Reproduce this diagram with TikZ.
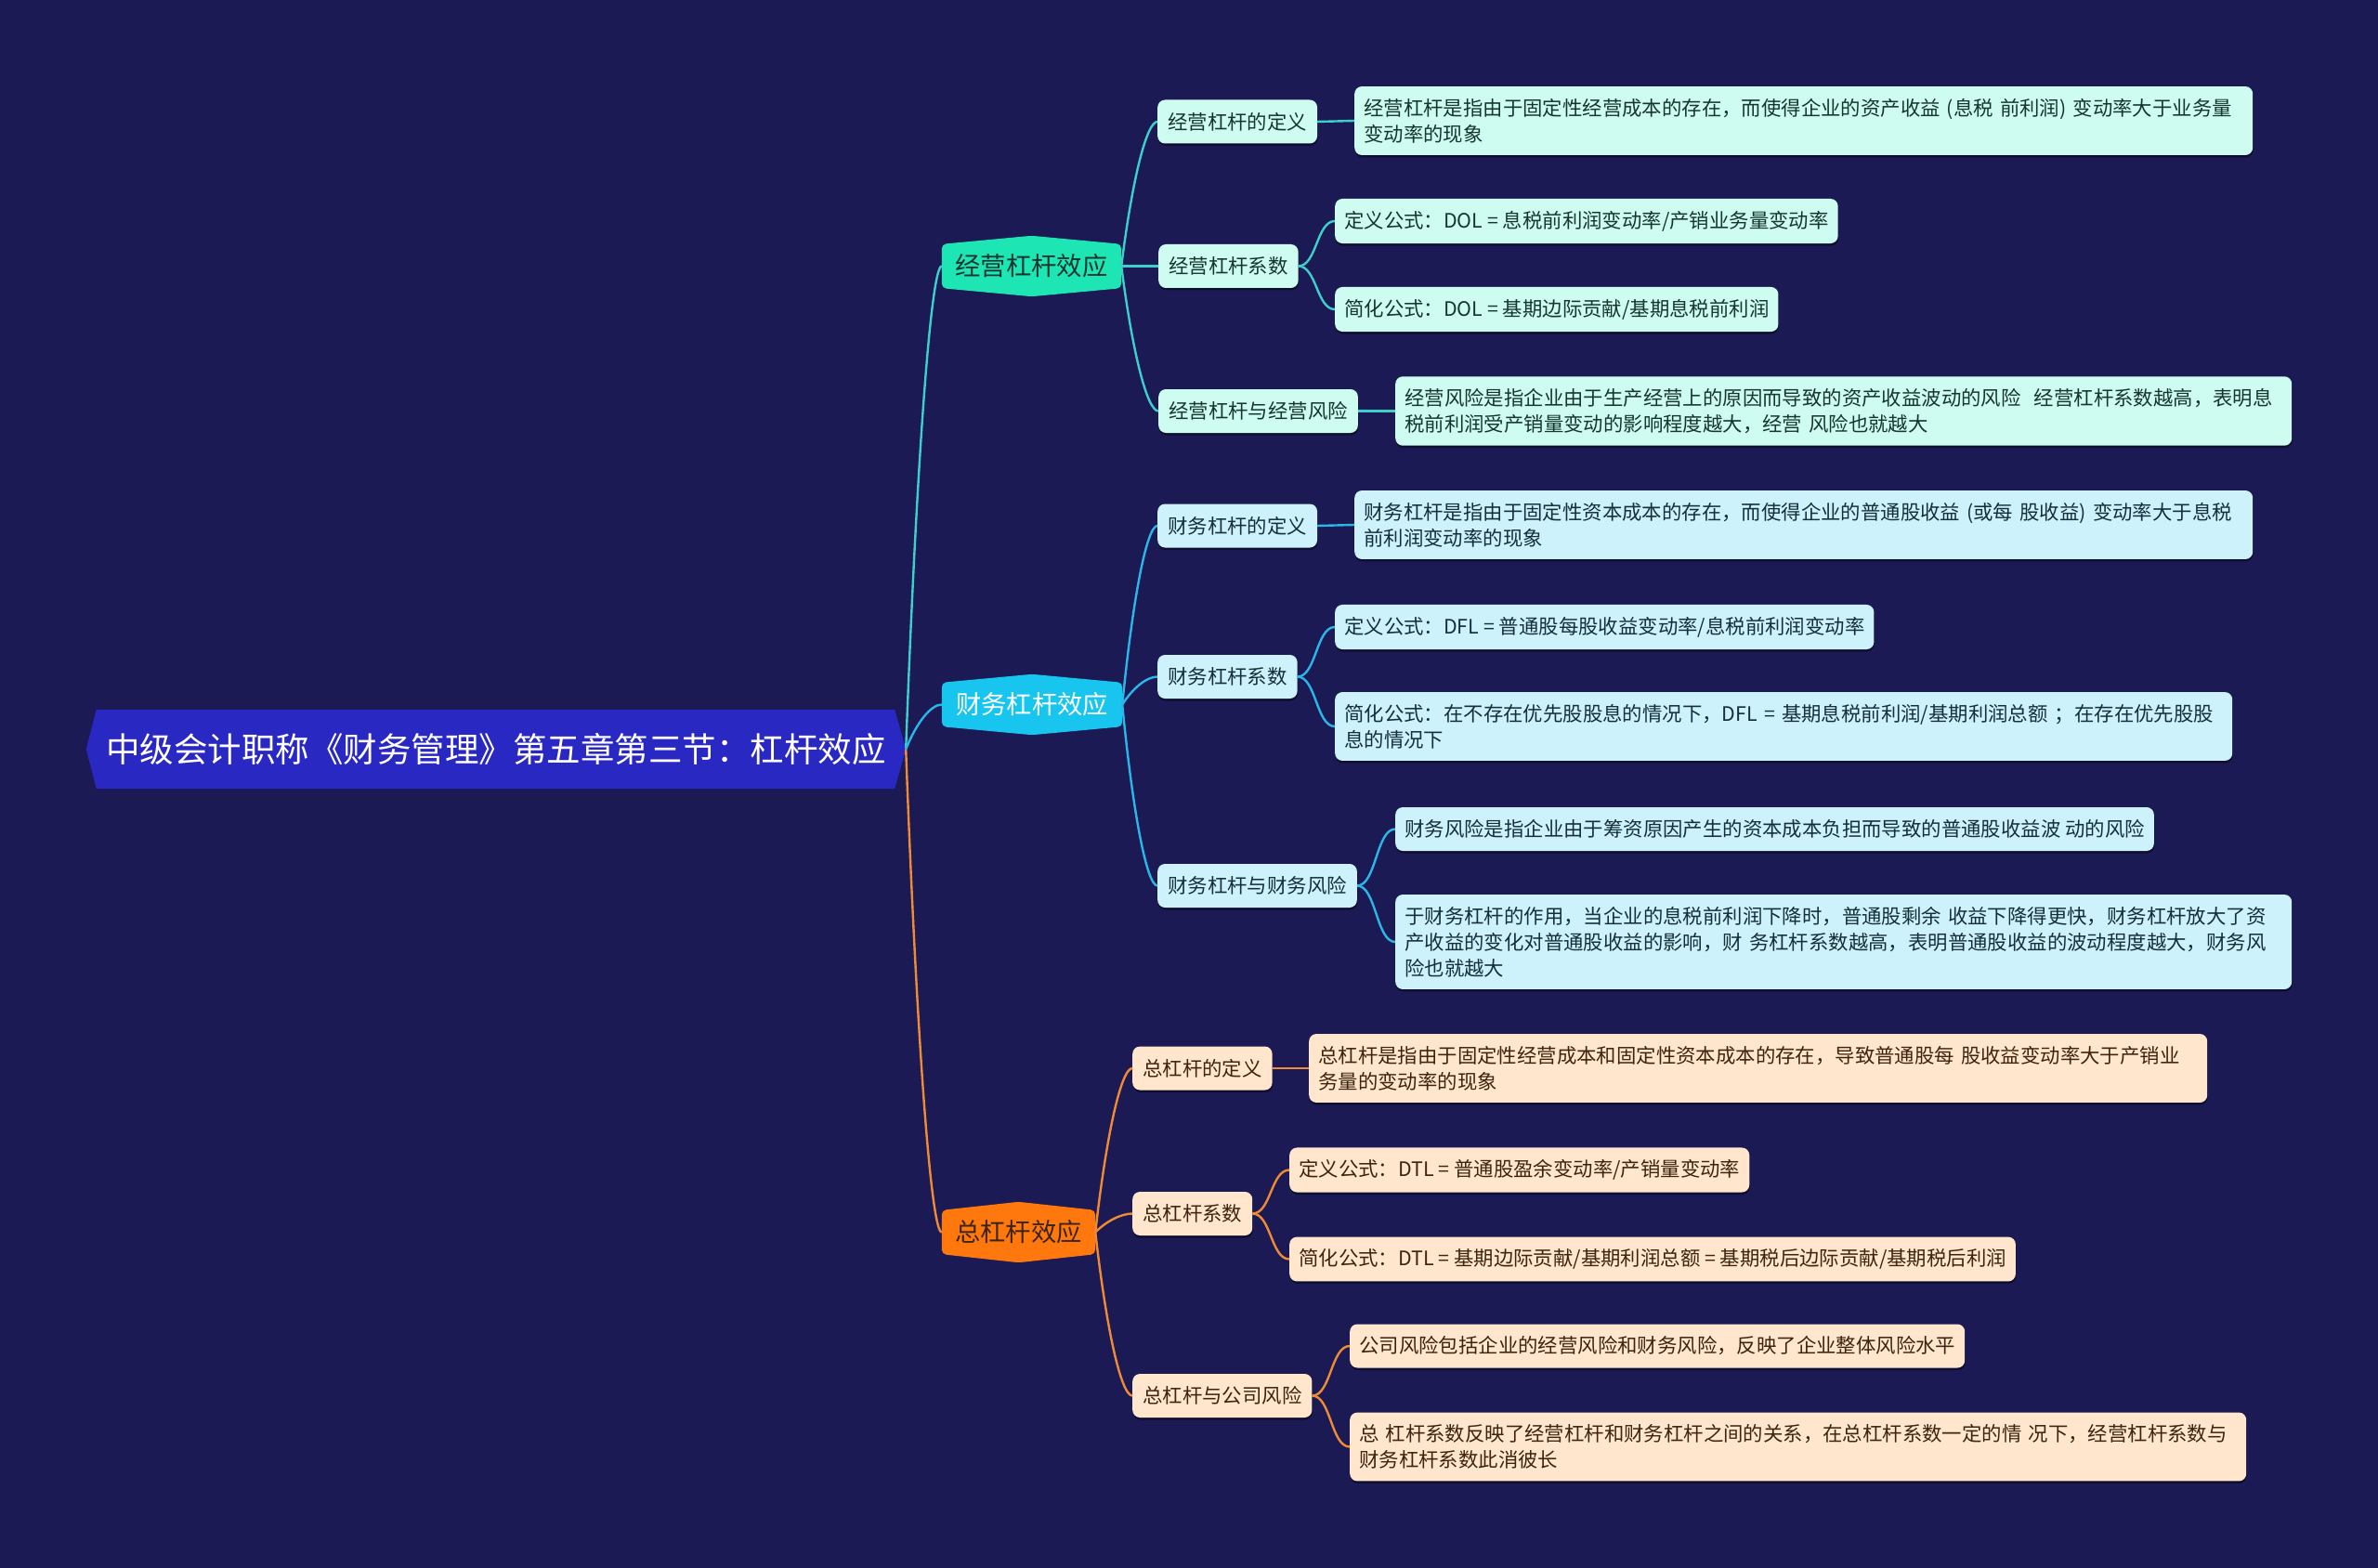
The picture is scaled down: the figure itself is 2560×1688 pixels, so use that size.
\documentclass[tikz,border=0pt]{standalone}
\usepackage{fontspec}
\setmainfont{Noto Sans CJK SC}
\usetikzlibrary{calc,backgrounds,shadows}
\definecolor{bgc}{HTML}{1B1A54}
\definecolor{rootc}{HTML}{2A28C2}
\definecolor{jLone}{HTML}{1DE6B4}
\definecolor{cLone}{HTML}{17C5EE}
\definecolor{zLone}{HTML}{FF780E}
\definecolor{jfill}{HTML}{CFFCF0}
\definecolor{cfill}{HTML}{CEF2FB}
\definecolor{zfill}{HTML}{FFE6CD}
\definecolor{jline}{HTML}{3ECFCB}
\definecolor{cline}{HTML}{2AB6E8}
\definecolor{zline}{HTML}{EF8B34}
\definecolor{jtext}{HTML}{163530}
\definecolor{ctext}{HTML}{142F3A}
\definecolor{ztext}{HTML}{3C2410}
\tikzset{
  rootnode/.style={minimum width=882pt, minimum height=85pt, inner sep=0pt, text=white, font=\fontsize{36.5}{44}\selectfont},
  lone/.style={minimum height=47pt, inner sep=0pt, font=\fontsize{27.3}{33}\selectfont},
  boxshadow/.style={drop shadow={shadow xshift=0.5pt, shadow yshift=-2.5pt, fill=black, opacity=0.45}},
  ltwo/.style={rounded corners=8pt, inner xsep=11pt, inner ysep=0pt, minimum height=47pt, anchor=west, boxshadow, font=\fontsize{21.4}{28}\selectfont},
  lthree/.style={rounded corners=8pt, inner xsep=10pt, inner ysep=13pt, minimum height=47pt, anchor=west, align=left, boxshadow, font=\fontsize{21.4}{28}\selectfont},
  jb/.style={fill=jfill, text=jtext},
  cb/.style={fill=cfill, text=ctext},
  zb/.style={fill=zfill, text=ztext},
  conn/.style={line width=2.4pt}
}
\newcommand\linkV[3]{\draw[conn,draw=#1] let \p1=(#2.east), \p2=(#3.west) in (\p1) .. controls ({\x1+0.3*(\x2-\x1)},{\y1+0.6*(\y2-\y1)}) and ({\x1+0.7*(\x2-\x1)},\y2) .. (\p2);}
\newcommand\linkS[3]{\draw[conn,draw=#1] let \p1=(#2.east), \p2=(#3.west) in (\p1) .. controls ({\x1+0.5*(\x2-\x1)},\y1) and ({\x1+0.5*(\x2-\x1)},\y2) .. (\p2);}
\newcommand\hexfill[2]{\fill[#2, rounded corners=5pt] (#1.north west) -- ($(#1.north)+(0,9)$) -- (#1.north east) -- (#1.south east) -- ($(#1.south)+(0,-9)$) -- (#1.south west) -- cycle;}
\begin{document}
\begin{tikzpicture}[x=1pt,y=1pt]
\useasboundingbox (0,0) rectangle (2560,-1688);
\begin{scope}[on background layer]
\fill[bgc] (0,0) rectangle (2560,-1688);
\end{scope}

% root
\node[rootnode] (root) at (534,-806.5) {中级会计职称《财务管理》第五章第三节：杠杆效应};

% level 1
\node[lone, text=jtext, minimum width=193pt] (j1) at (1110.5,-286.5) {经营杠杆效应};
\node[lone, text=white, minimum width=194pt] (c1) at (1111,-758.5) {财务杠杆效应};
\node[lone, text=ztext, minimum width=165pt] (z1) at (1096.5,-1326.5) {总杠杆效应};

\begin{scope}[on background layer]
\fill[rootc] (root.west) -- ($(root.north west)+(11,0)$) -- ($(root.north east)+(-12,0)$) -- (root.east) -- ($(root.south east)+(-12,0)$) -- ($(root.south west)+(11,0)$) -- cycle;
\hexfill{j1}{jLone}
\hexfill{c1}{cLone}
\hexfill{z1}{zLone}
\end{scope}

% level 2
\node[ltwo,jb] (j2a) at (1246,-131) {经营杠杆的定义};
\node[ltwo,jb] (j2b) at (1247,-286.5) {经营杠杆系数};
\node[ltwo,jb] (j2c) at (1247,-442.5) {经营杠杆与经营风险};
\node[ltwo,cb] (c2a) at (1246,-566) {财务杠杆的定义};
\node[ltwo,cb] (c2b) at (1246,-728.5) {财务杠杆系数};
\node[ltwo,cb] (c2c) at (1246,-953.5) {财务杠杆与财务风险};
\node[ltwo,zb] (z2a) at (1219,-1150) {总杠杆的定义};
\node[ltwo,zb] (z2b) at (1219,-1306.5) {总杠杆系数};
\node[ltwo,zb] (z2c) at (1219,-1502.5) {总杠杆与公司风险};

% level 3
\node[lthree,jb,text width=947pt] (j3a) at (1458,-130) {经营杠杆是指由于固定性经营成本的存在，而使得企业的资产收益~(息税~前利润)~变动率大于业务量\\变动率的现象};
\node[lthree,jb] (j3b) at (1437,-238) {定义公式：DOL = 息税前利润变动率/产销业务量变动率};
\node[lthree,jb] (j3c) at (1437,-333) {简化公式：DOL = 基期边际贡献/基期息税前利润};
\node[lthree,jb,text width=945pt] (j3d) at (1502,-442.5) {经营风险是指企业由于生产经营上的原因而导致的资产收益波动的风险~~经营杠杆系数越高，表明息\\税前利润受产销量变动的影响程度越大，经营~风险也就越大};

\node[lthree,cb,text width=947pt] (c3a) at (1458,-565) {财务杠杆是指由于固定性资本成本的存在，而使得企业的普通股收益~(或每~股收益)~变动率大于息税\\前利润变动率的现象};
\node[lthree,cb] (c3b) at (1437,-675) {定义公式：DFL = 普通股每股收益变动率/息税前利润变动率};
\node[lthree,cb,text width=946pt] (c3c) at (1437,-782) {简化公式：在不存在优先股股息的情况下，DFL~=~基期息税前利润/基期利润总额~；在存在优先股股\\息的情况下};
\node[lthree,cb] (c3d) at (1502,-892.5) {财务风险是指企业由于筹资原因产生的资本成本负担而导致的普通股收益波 动的风险};
\node[lthree,cb,text width=945pt] (c3e) at (1502,-1014) {于财务杠杆的作用，当企业的息税前利润下降时，普通股剩余~收益下降得更快，财务杠杆放大了资\\产收益的变化对普通股收益的影响，财~务杠杆系数越高，表明普通股收益的波动程度越大，财务风\\险也就越大};

\node[lthree,zb,text width=947pt] (z3a) at (1409,-1150) {总杠杆是指由于固定性经营成本和固定性资本成本的存在，导致普通股每~股收益变动率大于产销业\\务量的变动率的现象};
\node[lthree,zb] (z3b) at (1388,-1259.5) {定义公式：DTL = 普通股盈余变动率/产销量变动率};
\node[lthree,zb] (z3c) at (1388,-1355.5) {简化公式：DTL = 基期边际贡献/基期利润总额 = 基期税后边际贡献/基期税后利润};
\node[lthree,zb] (z3d) at (1453,-1449) {公司风险包括企业的经营风险和财务风险，反映了企业整体风险水平};
\node[lthree,zb,text width=945pt] (z3e) at (1453,-1557.5) {总~杠杆系数反映了经营杠杆和财务杠杆之间的关系，在总杠杆系数一定的情~况下，经营杠杆系数与\\财务杠杆系数此消彼长};

% connectors
\linkV{jline}{root}{j1}
\linkV{cline}{root}{c1}
\linkV{zline}{root}{z1}

\linkV{jline}{j1}{j2a}
\linkV{jline}{j1}{j2b}
\linkV{jline}{j1}{j2c}
\linkV{cline}{c1}{c2a}
\linkV{cline}{c1}{c2b}
\linkV{cline}{c1}{c2c}
\linkV{zline}{z1}{z2a}
\linkV{zline}{z1}{z2b}
\linkV{zline}{z1}{z2c}

\linkS{jline}{j2a}{j3a}
\linkS{jline}{j2b}{j3b}
\linkS{jline}{j2b}{j3c}
\linkS{jline}{j2c}{j3d}
\linkS{cline}{c2a}{c3a}
\linkS{cline}{c2b}{c3b}
\linkS{cline}{c2b}{c3c}
\linkS{cline}{c2c}{c3d}
\linkS{cline}{c2c}{c3e}
\linkS{zline}{z2a}{z3a}
\linkS{zline}{z2b}{z3b}
\linkS{zline}{z2b}{z3c}
\linkS{zline}{z2c}{z3d}
\linkS{zline}{z2c}{z3e}
\end{tikzpicture}
\end{document}
